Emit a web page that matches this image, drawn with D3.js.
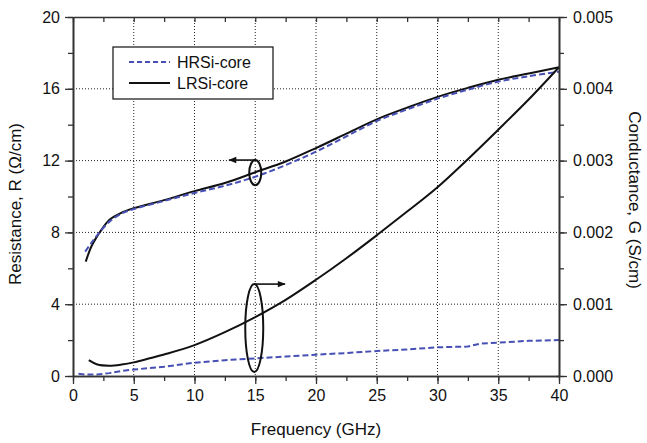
<!DOCTYPE html>
<html>
<head>
<meta charset="utf-8">
<script src="https://cdn.jsdelivr.net/npm/d3@7"></script>
<style>
  body { margin: 0; background: #fff; }
  text { font-family: "Liberation Sans", Arial, sans-serif; fill: #111; }
</style>
</head>
<body>
<svg id="chart" width="647" height="443"></svg>
<script>
// Resistance R (ohm/cm) vs frequency (GHz)
var rHrsF = [1, 1.5, 2, 3, 4, 5, 7.5, 10, 12.5, 15, 17.5, 20, 22.5, 25, 27.5, 30, 32.5, 35, 37.5, 40];
var rHrs  = [6.93, 7.4, 7.85, 8.6, 9.05, 9.3, 9.75, 10.2, 10.6, 11.1, 11.75, 12.5, 13.35, 14.2, 14.85, 15.45, 15.95, 16.4, 16.7, 16.95];
var rLrsF = [1.05, 1.5, 2, 2.2, 3, 4, 5, 7.5, 10, 12.5, 15, 17.5, 20, 22.5, 25, 27.5, 30, 32.5, 35, 37.5, 40];
var rLrs  = [6.37, 7.2, 7.8, 8.0, 8.7, 9.1, 9.35, 9.8, 10.3, 10.75, 11.35, 11.95, 12.7, 13.5, 14.3, 14.95, 15.55, 16.05, 16.5, 16.85, 17.2];
// Conductance G (S/cm) vs frequency (GHz)
var gHrsF = [0.45, 1, 2, 3, 4, 5, 6.3, 7.5, 10, 12.5, 15, 17.5, 20, 22.5, 25, 27.5, 30, 32.5, 33.5, 35, 37.5, 40];
var gHrs  = [0.00003, 0.00002, 0.00002, 0.00004, 0.00007, 0.00009, 0.00011, 0.00013, 0.000185, 0.00022, 0.000246, 0.00027, 0.000297, 0.00032, 0.000348, 0.00037, 0.0004, 0.00041, 0.00045, 0.000464, 0.00049, 0.0005];
var gLrsF = [1.3, 2, 3, 4, 5, 6.3, 7.5, 10, 12.5, 15, 17.5, 20, 22.5, 25, 27.5, 30, 32.5, 35, 37.5, 40];
var gLrs  = [0.00022, 0.00016, 0.000144, 0.00016, 0.00019, 0.000246, 0.0003, 0.00043, 0.00061, 0.00082, 0.00106, 0.00134, 0.00164, 0.00196, 0.00229, 0.00263, 0.00302, 0.00343, 0.00385, 0.0043];

var xTicks = [0, 5, 10, 15, 20, 25, 30, 35, 40];
var rTicks = [0, 4, 8, 12, 16, 20];
var gTicks = [0, 0.001, 0.002, 0.003, 0.004, 0.005];
var legendNames = ["HRSi-core", "LRSi-core"];

// annotation markers: centre freq, value at centre, value at ellipse top, freq of arrow tip
var noteR = { f: 15, r: 11.33, rTop: 12.03, tipF: 12.85 };
var noteG = { f: 15, g: 0.000668, gTop: 0.00128, tipF: 17.45 };

var svg = d3.select("#chart");
var m = { left: 73, right: 88, top: 17, bottom: 67 };
var W = 647 - m.left - m.right, H = 443 - m.top - m.bottom;

var x = d3.scaleLinear().domain([0, 40]).range([m.left, m.left + W]);
var yR = d3.scaleLinear().domain([0, 20]).range([m.top + H, m.top]);
var yG = d3.scaleLinear().domain([0, 0.005]).range([m.top + H, m.top]);

var blue = "#4750b4";

// grid
var grid = svg.append("g").attr("stroke", "#222").attr("stroke-width", 1).attr("stroke-dasharray", "1,2");
xTicks.slice(1, -1).forEach(function (t) {
  grid.append("line").attr("x1", x(t)).attr("x2", x(t)).attr("y1", m.top).attr("y2", m.top + H);
});
rTicks.slice(1, -1).forEach(function (t) {
  grid.append("line").attr("x1", m.left).attr("x2", m.left + W).attr("y1", yR(t)).attr("y2", yR(t));
});

function zip(a, b) { return a.map(function (v, i) { return [v, b[i]]; }); }

var lineR = d3.line().x(function (d) { return x(d[0]); }).y(function (d) { return yR(d[1]); }).curve(d3.curveCatmullRom);
var lineG = d3.line().x(function (d) { return x(d[0]); }).y(function (d) { return yG(d[1]); }).curve(d3.curveCatmullRom);
var lineGs = d3.line().x(function (d) { return x(d[0]); }).y(function (d) { return yG(d[1]); });

svg.append("path").attr("d", lineR(zip(rLrsF, rLrs))).attr("fill", "none").attr("stroke", "#111").attr("stroke-width", 2);
svg.append("path").attr("d", lineR(zip(rHrsF, rHrs))).attr("fill", "none").attr("stroke", blue).attr("stroke-width", 2).attr("stroke-dasharray", "6,3");
svg.append("path").attr("d", lineG(zip(gLrsF, gLrs))).attr("fill", "none").attr("stroke", "#111").attr("stroke-width", 2);
svg.append("path").attr("d", lineGs(zip(gHrsF, gHrs))).attr("fill", "none").attr("stroke", blue).attr("stroke-width", 2).attr("stroke-dasharray", "6,3");

// axes
var axisCol = "#333";
var gBottom = svg.append("g").attr("transform", "translate(0," + (m.top + H) + ")")
  .call(d3.axisBottom(x).tickValues(d3.range(0, 40.1, 2.5)).tickSize(5).tickSizeOuter(0).tickFormat(""));
gBottom.append("g").call(d3.axisBottom(x).tickValues(xTicks).tickSize(8).tickSizeOuter(0).tickPadding(6).tickFormat(d3.format("d")));
var gTop = svg.append("g").attr("transform", "translate(0," + m.top + ")")
  .call(d3.axisBottom(x).tickValues(d3.range(0, 40.1, 2.5)).tickSize(5).tickSizeOuter(0).tickFormat(""));
var gLeft = svg.append("g").attr("transform", "translate(" + m.left + ",0)")
  .call(d3.axisLeft(yR).tickValues(d3.range(0, 20.1, 2)).tickSize(5).tickSizeOuter(0).tickFormat(""));
gLeft.append("g").call(d3.axisLeft(yR).tickValues(rTicks).tickSize(8).tickSizeOuter(0).tickPadding(5).tickFormat(d3.format("d")));
var gRight = svg.append("g").attr("transform", "translate(" + (m.left + W) + ",0)")
  .call(d3.axisRight(yG).tickValues(d3.range(0, 0.00501, 0.0005)).tickSize(5).tickSizeOuter(0).tickFormat(""));
gRight.append("g").call(d3.axisRight(yG).tickValues(gTicks).tickSize(8).tickSizeOuter(0).tickPadding(6).tickFormat(d3.format(".3f")));
[gBottom, gTop, gLeft, gRight].forEach(function (g) {
  g.selectAll("path.domain").attr("stroke", axisCol).attr("stroke-width", 1.6);
  g.selectAll("line").attr("stroke", axisCol).attr("stroke-width", 1.3);
  g.selectAll("text").attr("font-size", 16).attr("font-family", "Liberation Sans, Arial, sans-serif").attr("fill", "#111");
});
gRight.select("g").selectAll(".tick line").attr("x1", -3);

// axis titles
svg.append("text").attr("x", (m.left + m.left + W) / 2).attr("y", 435).attr("text-anchor", "middle")
  .attr("font-size", 17).text("Frequency (GHz)");
svg.append("text").attr("transform", "translate(21,204) rotate(-90)")
  .attr("text-anchor", "middle").attr("font-size", 17).text("Resistance, R (\u03A9/cm)");
svg.append("text").attr("transform", "translate(629,200) rotate(90)")
  .attr("text-anchor", "middle").attr("font-size", 17).text("Conductance, G (S/cm)");

// annotations
var defs = svg.append("defs");
defs.append("marker").attr("id", "arr").attr("viewBox", "0 0 10 10").attr("refX", 9).attr("refY", 5)
  .attr("markerWidth", 12).attr("markerHeight", 8).attr("orient", "auto")
  .attr("markerUnits", "userSpaceOnUse")
  .append("path").attr("d", "M0,1 L10,5 L0,9 z").attr("fill", "#111");

var ann = svg.append("g").attr("fill", "none").attr("stroke", "#111").attr("stroke-width", 2);
ann.append("ellipse").attr("cx", x(noteR.f)).attr("cy", yR(noteR.r))
  .attr("rx", 6).attr("ry", yR(noteR.r) - yR(noteR.rTop));
ann.append("line").attr("x1", x(noteR.f)).attr("y1", yR(noteR.rTop)).attr("x2", x(noteR.tipF)).attr("y2", yR(noteR.rTop))
  .attr("stroke-width", 1.6).attr("marker-end", "url(#arr)");
ann.append("ellipse").attr("cx", x(noteG.f) - 1).attr("cy", yG(noteG.g))
  .attr("rx", 9).attr("ry", yG(noteG.g) - yG(noteG.gTop));
ann.append("line").attr("x1", x(noteG.f) - 1).attr("y1", yG(noteG.gTop)).attr("x2", x(noteG.tipF)).attr("y2", yG(noteG.gTop))
  .attr("stroke-width", 1.6).attr("marker-end", "url(#arr)");

// legend
var lg = svg.append("g").attr("transform", "translate(113,47)");
lg.append("rect").attr("width", 160).attr("height", 52).attr("fill", "#fff").attr("stroke", "#222").attr("stroke-width", 1.3);
legendNames.forEach(function (n, i) {
  var yy = 15 + i * 21;
  lg.append("line").attr("x1", 16).attr("x2", 57).attr("y1", yy).attr("y2", yy)
    .attr("stroke", i === 0 ? blue : "#111").attr("stroke-width", 2)
    .attr("stroke-dasharray", i === 0 ? "5,3" : null);
  lg.append("text").attr("x", 64).attr("y", yy + 6).attr("font-size", 16).text(n);
});
</script>
</body>
</html>
